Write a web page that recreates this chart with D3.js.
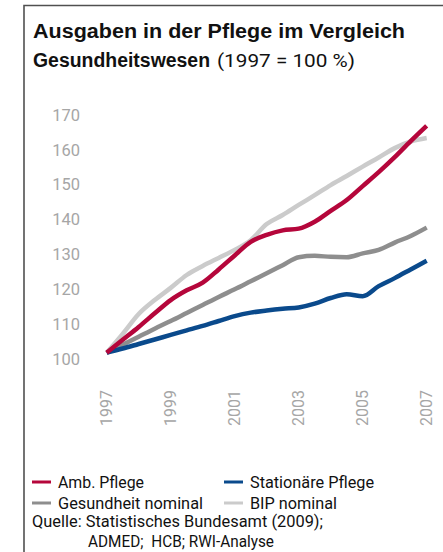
<!DOCTYPE html>
<html><head><meta charset="utf-8">
<script src="https://cdn.jsdelivr.net/npm/d3@7"></script>
<style>html,body{margin:0;padding:0;background:#fff;}svg{display:block;}</style>
</head><body>
<svg id="c" width="443" height="552"></svg>
<script>
const periods = [1997,1997.5,1998,1998.5,1999,1999.5,2000,2000.5,2001,2001.5,2002,2002.5,2003,2003.5,2004,2004.5,2005,2005.5,2006,2006.5,2007];
const ambPflege     = [101.8,105.5,109.2,113.1,116.9,119.7,121.9,125.7,129.7,133.6,135.6,136.9,137.4,139.4,142.5,145.6,149.6,153.6,157.9,162.5,166.9];
const stationaer    = [101.8,103.0,104.3,105.6,106.9,108.2,109.5,110.9,112.3,113.3,113.9,114.4,114.8,115.9,117.5,118.6,118.0,120.9,123.2,125.7,128.2];
const gesundheit    = [101.8,104.1,106.4,108.7,110.9,113.2,115.5,117.8,120.0,122.3,124.6,126.9,129.2,129.6,129.3,129.2,130.3,131.3,133.4,135.3,137.7];
const bip           = [101.8,107.2,112.9,116.9,120.4,124.1,126.7,129.0,131.3,134.1,138.7,141.3,144.2,147.0,149.9,152.5,155.2,157.8,160.5,162.4,163.4];
const yTicks = [100,110,120,130,140,150,160,170];
const xTicks = [1997,1999,2001,2003,2005,2007];
const seriesNames = ["Amb. Pflege","Stationäre Pflege","Gesundheit nominal","BIP nominal"];
const seriesColors = ["#b5063b","#0a4a8c","#8e8e8e","#cbcbcb"];
const seriesValues = [ambPflege, stationaer, gesundheit, bip];

const svg = d3.select("#c");
// frame
svg.append("path").attr("d","M24,552 V5.5 H443").attr("fill","none").attr("stroke","#505050").attr("stroke-width",1.6);

// title
const tf = "Liberation Sans, Arial, sans-serif";
svg.append("text").attr("x",33).attr("y",37.5)
  .attr("font-family",tf).attr("font-weight","bold").attr("font-size",19.5).attr("fill","#111")
  .attr("textLength",372).attr("lengthAdjust","spacingAndGlyphs")
  .text("Ausgaben in der Pflege im Vergleich");
svg.append("text").attr("x",33).attr("y",66.5)
  .attr("font-family",tf).attr("font-weight","bold").attr("font-size",19.5).attr("fill","#111")
  .attr("textLength",177).attr("lengthAdjust","spacingAndGlyphs")
  .text("Gesundheitswesen");
svg.append("text").attr("x",217).attr("y",66.5)
  .attr("font-family","Roboto, Liberation Sans, sans-serif").attr("font-size",19).attr("fill","#111")
  .attr("textLength",138).attr("lengthAdjust","spacingAndGlyphs")
  .text("(1997 = 100 %)");

const x = d3.scaleLinear().domain([1997,2007]).range([106.7,426.7]);
const y = d3.scaleLinear().domain([100,170]).range([359,115]);

// y axis labels
const yAxis = d3.axisLeft(y).tickValues(yTicks).tickSize(0).tickPadding(0).tickFormat(d3.format("d"));
const gy = svg.append("g").attr("transform","translate(80,0)").call(yAxis);
gy.select(".domain").remove();
gy.selectAll("text").attr("font-family","Roboto, Liberation Sans, sans-serif").attr("font-size",16.5).attr("fill","#a6a6a6");

// x axis labels
const gx = svg.append("g");
gx.selectAll("text").data(xTicks).join("text")
  .attr("transform",d=>`translate(${x(d)},426) rotate(-90)`)
  .attr("dy","0.36em").attr("text-anchor","start")
  .attr("font-family","Roboto, Liberation Sans, sans-serif").attr("font-size",16).attr("fill","#a6a6a6")
  .text(d=>d);

// lines
const line = d3.line().x((d,i)=>x(periods[i])).y(d=>y(d)).curve(d3.curveMonotoneX);
const order = [3,2,1,0];
svg.append("g").selectAll("path").data(order).join("path")
  .attr("d",i=>line(seriesValues[i]))
  .attr("fill","none").attr("stroke",i=>seriesColors[i]).attr("stroke-width",4.5)
  .attr("stroke-linejoin","round");

// legend
const legPos = [[32,482],[224,482],[32,503],[224,503]];
const legLen = [86,124,145,87];
const lg = svg.append("g").attr("font-family","Roboto, Liberation Sans, sans-serif").attr("font-size",16).attr("fill","#111");
seriesNames.forEach((n,i)=>{
  const [lx,ly] = legPos[i];
  lg.append("line").attr("x1",lx).attr("x2",lx+19).attr("y1",ly).attr("y2",ly).attr("stroke",seriesColors[i]).attr("stroke-width",3);
  lg.append("text").attr("x",lx+26).attr("y",ly).attr("dy","0.35em")
    .attr("textLength",legLen[i]).attr("lengthAdjust","spacingAndGlyphs").text(n);
});
lg.append("text").attr("x",32).attr("y",521).attr("dy","0.35em")
  .attr("textLength",291).attr("lengthAdjust","spacingAndGlyphs").text("Quelle: Statistisches Bundesamt (2009);");
lg.append("text").attr("x",88).attr("y",541).attr("dy","0.35em")
  .attr("textLength",186).attr("lengthAdjust","spacingAndGlyphs").text("ADMED;\u2002HCB; RWI-Analyse");
</script>
</body></html>
